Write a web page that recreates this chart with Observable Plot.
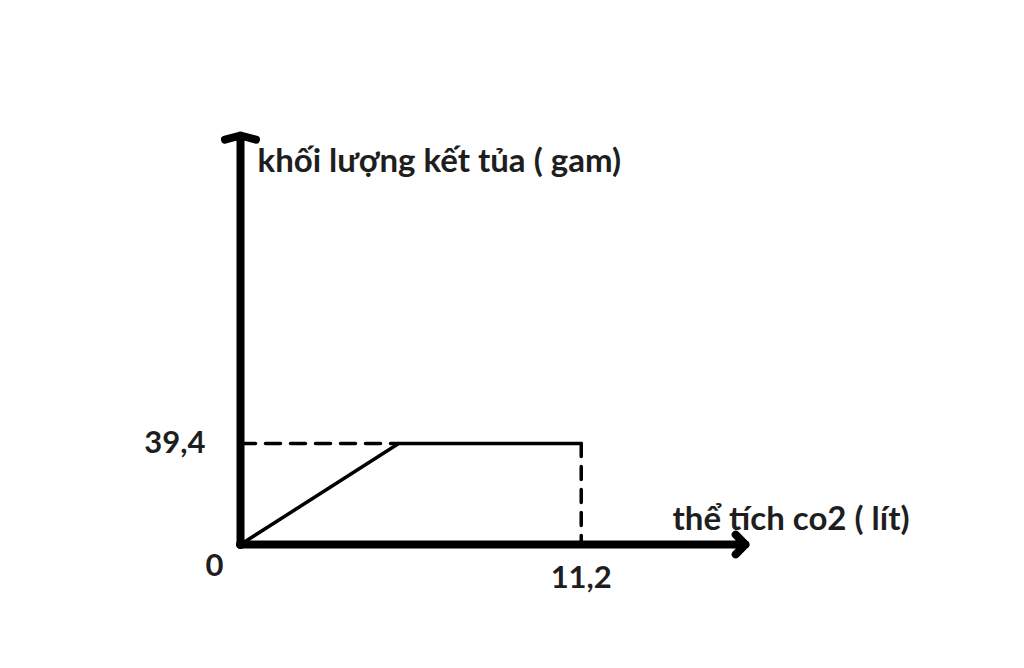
<!DOCTYPE html>
<html>
<head>
<meta charset="utf-8">
<script src="https://cdn.jsdelivr.net/npm/d3@7"></script>
<script src="https://cdn.jsdelivr.net/npm/@observablehq/plot@0.6"></script>
<style>
  html, body { margin: 0; padding: 0; background: #fff; }
  #chart svg { display: block; }
</style>
</head>
<body>
<div id="chart"></div>
<script>
// ---- data ----
const volumeCO2 = [0, 5.2, 11.2];          // thể tích CO2 (lít)
const precipitate = [0, 39.4, 39.4];      // khối lượng kết tủa (gam)
const axisXMax = [16.6];
const axisYMax = [159.6];
const yLabel = "khối lượng kết tủa ( gam)";
const xLabel = "thể tích co2 ( lít)";
const tickXLabels = ["11,2"];
const tickYLabels = ["39,4"];
const originLabel = ["0"];

const curve = volumeCO2.map((v, i) => ({x: v, y: precipitate[i]}));
const font = "Lato, 'Open Sans', sans-serif";
const textColor = "#1e1e1e";

const chart = Plot.plot({
  width: 1024,
  height: 668,
  marginLeft: 240,
  marginRight: 279,
  marginTop: 135,
  marginBottom: 124,
  x: {domain: [0, axisXMax[0]], axis: null},
  y: {domain: [0, axisYMax[0]], axis: null},
  style: {fontFamily: font, background: "#fff"},
  marks: [
    // dashed guide from y axis to the plateau start
    Plot.line([{x: 0, y: precipitate[1]}, {x: volumeCO2[1], y: precipitate[1]}],
      {x: "x", y: "y", stroke: "black", strokeWidth: 3.5, strokeDasharray: "15,10"}),
    // dashed drop from plateau end to x axis
    Plot.line([{x: volumeCO2[2], y: precipitate[2]}, {x: volumeCO2[2], y: 0}],
      {x: "x", y: "y", stroke: "black", strokeWidth: 3.5, strokeDasharray: "13,10"}),
    // curve
    Plot.line(curve, {x: "x", y: "y", stroke: "black", strokeWidth: 3.5}),
    // axes with arrowheads
    Plot.arrow([{x1: 0, y1: 0, x2: axisXMax[0], y2: 0}],
      {x1: "x1", y1: "y1", x2: "x2", y2: "y2", stroke: "black", strokeWidth: 8,
       headLength: 2.6, headAngle: 90, strokeLinecap: "round", strokeLinejoin: "round"}),
    Plot.arrow([{x1: 0, y1: 0, x2: 0, y2: axisYMax[0]}],
      {x1: "x1", y1: "y1", x2: "x2", y2: "y2", stroke: "black", strokeWidth: 8,
       headLength: 3, headAngle: 150, strokeLinecap: "round", strokeLinejoin: "round"}),
    Plot.dot([{x: 0, y: 0}], {x: "x", y: "y", r: 4.5, fill: "black"}),
    // labels
    Plot.text([yLabel], {x: 0, y: axisYMax[0], text: d => d, textAnchor: "start",
      dx: 17, dy: 26, fontSize: 33, fontWeight: 700, fill: textColor}),
    Plot.text([xLabel], {x: axisXMax[0], y: 0, text: d => d, textAnchor: "start",
      dx: -73, dy: -25, fontSize: 33, fontWeight: 700, fill: textColor}),
    Plot.text(tickYLabels, {x: 0, y: precipitate[1], text: d => d, textAnchor: "end",
      dx: -35, dy: 0, fontSize: 31, fontWeight: 700, fill: textColor}),
    Plot.text(tickXLabels, {x: volumeCO2[2], y: 0, text: d => d, textAnchor: "middle",
      dy: 34, fontSize: 31, fontWeight: 700, fill: textColor}),
    Plot.text(originLabel, {x: 0, y: 0, text: d => d, textAnchor: "middle",
      dx: -26, dy: 22, fontSize: 31, fontWeight: 700, fill: textColor})
  ]
});
document.getElementById("chart").appendChild(chart);
</script>
</body>
</html>
